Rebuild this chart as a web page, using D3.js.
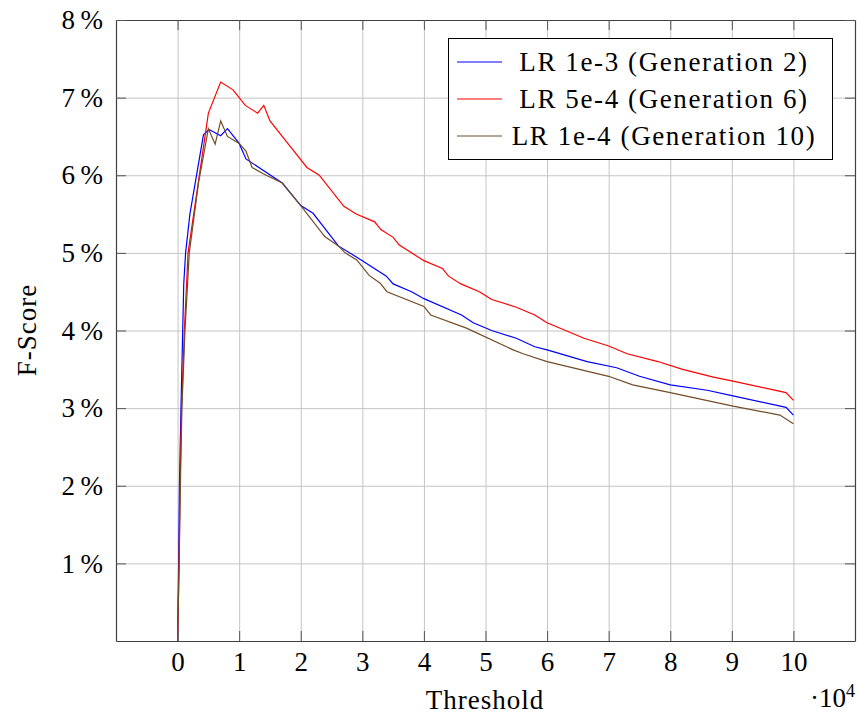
<!DOCTYPE html>
<html>
<head>
<meta charset="utf-8">
<script src="https://cdn.jsdelivr.net/npm/d3@7"></script>
<style>
  body { margin: 0; background: #fff; }
  text { font-family: "Liberation Serif", "DejaVu Serif", serif; fill: #000; }
</style>
</head>
<body>
<svg></svg>
<script>
// thresholds and f-scores (percent)
var blueX = [0, 170, 300, 550, 1000, 1300, 2000, 4200, 5100, 7000, 8100, 10000, 11100, 17000, 20000, 22000, 26100, 30000, 33900, 35000, 38000, 40000, 46100, 48000, 51000, 55000, 58000, 60000, 66500, 71300, 75000, 80000, 86000, 90000, 98800, 100000];
var blueY = [0, 1.0, 2.0, 3.0, 4.6, 5.0, 5.5, 6.52, 6.59, 6.51, 6.6, 6.41, 6.21, 5.9, 5.61, 5.51, 5.09, 4.9, 4.7, 4.6, 4.5, 4.41, 4.2, 4.1, 4.0, 3.9, 3.79, 3.75, 3.6, 3.52, 3.41, 3.3, 3.23, 3.16, 3.01, 2.91];

var redX = [0, 250, 400, 650, 1100, 1700, 5000, 7000, 9000, 11000, 13000, 14000, 15000, 18800, 21000, 23000, 27000, 29000, 32000, 33000, 35000, 36000, 40000, 43000, 44000, 46000, 49000, 51000, 55000, 58000, 60000, 66000, 70000, 73000, 78000, 82000, 87000, 90000, 98800, 100000];
var redY = [0, 1.0, 2.0, 3.0, 4.0, 5.0, 6.8, 7.2, 7.1, 6.9, 6.8, 6.9, 6.7, 6.32, 6.1, 6.0, 5.6, 5.5, 5.4, 5.3, 5.2, 5.1, 4.9, 4.8, 4.7, 4.6, 4.5, 4.4, 4.3, 4.2, 4.1, 3.9, 3.8, 3.7, 3.6, 3.5, 3.4, 3.35, 3.2, 3.1];

var brownX = [0, 250, 450, 700, 1200, 1900, 3400, 5000, 6100, 7000, 8100, 10000, 11100, 12100, 13900, 17000, 20000, 23900, 26100, 27200, 29100, 31100, 32900, 34000, 40000, 41100, 46900, 54500, 56100, 60000, 70000, 73900, 80000, 90000, 97800, 100000];
var brownY = [0, 1.0, 2.0, 3.0, 4.0, 5.0, 5.9, 6.6, 6.4, 6.7, 6.5, 6.41, 6.31, 6.1, 6.02, 5.9, 5.61, 5.21, 5.09, 5.0, 4.91, 4.71, 4.61, 4.5, 4.31, 4.2, 4.03, 3.75, 3.7, 3.6, 3.41, 3.3, 3.2, 3.03, 2.91, 2.8];

var seriesNames = ["LR 1e-3 (Generation 2)", "LR 5e-4 (Generation 6)", "LR 1e-4 (Generation 10)"];
var seriesColors = ["#0000ff", "#ff0000", "#734d26"];

var xTicks = [0, 10000, 20000, 30000, 40000, 50000, 60000, 70000, 80000, 90000, 100000];
var yTicks = [1, 2, 3, 4, 5, 6, 7, 8];

var margin = {top: 20, right: 2, bottom: 74, left: 116},
    width = 857 - margin.left - margin.right,
    height = 715 - margin.top - margin.bottom;

var svg = d3.select("svg")
    .attr("width", width + margin.left + margin.right)
    .attr("height", height + margin.top + margin.bottom);

var g = svg.append("g")
    .attr("transform", "translate(" + margin.left + "," + margin.top + ")");

var x = d3.scaleLinear().domain([-10000, 110000]).range([0, width]);
var y = d3.scaleLinear().domain([0, 8]).range([height, 0]);

// grid
g.append("g")
    .attr("class", "grid")
    .attr("transform", "translate(0," + height + ")")
    .call(d3.axisBottom(x).tickValues(xTicks).tickSize(-height).tickFormat(""));
g.append("g")
    .attr("class", "grid")
    .call(d3.axisLeft(y).tickValues(yTicks.slice(0, 7)).tickSize(-width).tickFormat(""));
g.selectAll(".grid .domain").remove();
g.selectAll(".grid line").attr("stroke", "#c4c4c4").attr("stroke-width", 1);

// lines
var line = d3.line()
    .x(function(d) { return x(d[0]); })
    .y(function(d) { return y(d[1]); });

var allSeries = [d3.zip(blueX, blueY), d3.zip(redX, redY), d3.zip(brownX, brownY)];
g.selectAll(".series")
    .data(allSeries)
    .enter()
    .append("path")
      .attr("class", "series")
      .attr("fill", "none")
      .attr("stroke", function(d, i) { return seriesColors[i]; })
      .attr("stroke-width", 1.2)
      .attr("d", line);

// axes, ticks pointing inwards
var xAxis = g.append("g")
    .attr("transform", "translate(0," + height + ")")
    .call(d3.axisBottom(x).tickValues(xTicks).tickSizeInner(-10).tickSizeOuter(0).tickPadding(11)
      .tickFormat(function(d) { return d / 10000; }));
g.append("g")
    .call(d3.axisTop(x).tickValues(xTicks).tickSizeInner(-10).tickSizeOuter(0).tickFormat(""));
var yAxis = g.append("g")
    .call(d3.axisLeft(y).tickValues(yTicks).tickSizeInner(-10).tickSizeOuter(0).tickPadding(13)
      .tickFormat(function(d) { return d + "\u2009%"; }));
g.append("g")
    .attr("transform", "translate(" + width + ",0)")
    .call(d3.axisRight(y).tickValues(yTicks).tickSizeInner(-10).tickSizeOuter(0).tickFormat(""));

g.selectAll(".domain").attr("stroke", "#404040").attr("stroke-width", 1.2);
g.selectAll(".tick line").filter(function() { return !this.parentNode.parentNode.classList.contains("grid"); })
    .attr("stroke", "#555");
xAxis.selectAll("text").style("font-size", "27px").attr("fill", "#000");
yAxis.selectAll("text").style("font-size", "27px").attr("fill", "#000");

// axis labels
svg.append("text")
    .attr("x", 485).attr("y", 709)
    .attr("text-anchor", "middle")
    .style("font-size", "27px")
    .style("letter-spacing", "1px")
    .text("Threshold");

var mult = svg.append("text")
    .attr("x", 855).attr("y", 707)
    .attr("text-anchor", "end")
    .style("font-size", "27px");
mult.append("tspan").text("\u00b710");
mult.append("tspan").attr("dy", -10).style("font-size", "18px").text("4");

svg.append("text")
    .attr("transform", "translate(36,330)rotate(-90)")
    .attr("text-anchor", "middle")
    .style("font-size", "27px")
    .style("letter-spacing", "1px")
    .text("F-Score");

// legend
var legend = svg.append("g");
legend.append("rect")
    .attr("x", 448.5).attr("y", 38.5)
    .attr("width", 384).attr("height", 121)
    .attr("fill", "#fff")
    .attr("stroke", "#000")
    .attr("stroke-width", 1);
var rows = legend.selectAll(".row")
    .data(seriesNames)
    .enter()
    .append("g")
      .attr("transform", function(d, i) { return "translate(0," + (62 + i * 37) + ")"; });
rows.append("line")
    .attr("x1", 457).attr("x2", 502)
    .attr("stroke", function(d, i) { return seriesColors[i]; })
    .attr("stroke-width", 1.2);
rows.append("text")
    .attr("x", 664).attr("y", 9)
    .attr("text-anchor", "middle")
    .style("font-size", "27px")
    .style("letter-spacing", "1.6px")
    .text(function(d) { return d; });
</script>
</body>
</html>
